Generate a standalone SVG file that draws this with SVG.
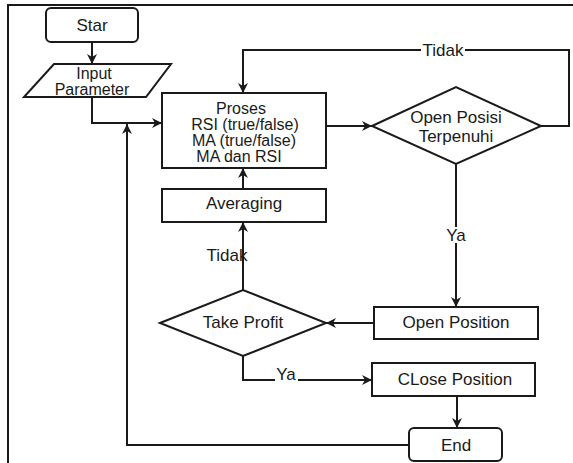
<svg xmlns="http://www.w3.org/2000/svg" width="573" height="463" viewBox="0 0 573 463">
<style>
.s{fill:#fff;stroke:#1a1a1a;stroke-width:2}
.c{fill:none;stroke:#1a1a1a;stroke-width:2}
text{font-family:"Liberation Sans",Arial,sans-serif;font-size:17px;fill:#1a1a1a;text-anchor:middle;dominant-baseline:central}
.m{font-size:16px}
.bg{fill:#fff}
</style>
<defs>
<marker id="a" viewBox="0 0 10 10" refX="10" refY="5" markerWidth="10" markerHeight="10" markerUnits="userSpaceOnUse" orient="auto">
<path d="M0,0 L10,5 L0,10 L3,5 Z" fill="#1a1a1a"/>
</marker>
</defs>
<rect width="573" height="463" fill="#fff"/>
<path d="M8,463 V5 H573" fill="none" stroke="#1a1a1a" stroke-width="2"/>
<g id="connectors">
<path class="c" d="M92,42 V64" marker-end="url(#a)"/>
<path class="c" d="M92,97 V123 H162" marker-end="url(#a)"/>
<path class="c" d="M326,126 H372" marker-end="url(#a)"/>
<path class="c" d="M541,126 H569 V50 H243 V93" marker-end="url(#a)"/>
<path class="c" d="M456,164 V307" marker-end="url(#a)"/>
<path class="c" d="M374,323 H326" marker-end="url(#a)"/>
<path class="c" d="M243,290 V222" marker-end="url(#a)"/>
<path class="c" d="M243,189 V168" marker-end="url(#a)"/>
<path class="c" d="M243,356 V380 H372" marker-end="url(#a)"/>
<path class="c" d="M457,396 V428" marker-end="url(#a)"/>
<path class="c" d="M409,445 H127 V124" marker-end="url(#a)"/>
<rect class="bg" x="421" y="42" width="44" height="16"/>
<text x="443" y="50">Tidak</text>
<rect class="bg" x="208" y="247" width="34" height="16"/>
<text x="227" y="255">Tidak</text>
<rect class="bg" x="444" y="227" width="24" height="16"/>
<text x="456" y="235">Ya</text>
<rect class="bg" x="275" y="372" width="23" height="10"/>
<text x="286" y="374">Ya</text>
</g>
<g id="star">
<rect class="s" x="46" y="8" width="92" height="34" rx="5"/>
<text x="92" y="25">Star</text>
</g>
<g id="input">
<polygon class="s" points="54,64 171,64 146,97 24,97"/>
<text class="m" x="94" y="73">Input</text>
<text class="m" x="92" y="89">Parameter</text>
</g>
<g id="proses">
<rect class="s" x="162" y="93" width="164" height="75"/>
<text class="m" x="241" y="108">Proses</text>
<text class="m" x="245" y="124">RSI (true/false)</text>
<text class="m" x="244" y="140">MA (true/false)</text>
<text class="m" x="239" y="156">MA dan RSI</text>
</g>
<g id="openposisi">
<polygon class="s" points="372,126 456,87 541,126 456,164"/>
<text x="456" y="117">Open Posisi</text>
<text x="456" y="136">Terpenuhi</text>
</g>
<g id="averaging">
<rect class="s" x="162" y="189" width="164" height="33"/>
<text x="244" y="203">Averaging</text>
</g>
<g id="openposition">
<rect class="s" x="374" y="307" width="164" height="32"/>
<text x="456" y="322">Open Position</text>
</g>
<g id="takeprofit">
<polygon class="s" points="160,323 243,290 326,323 243,356"/>
<text x="243" y="322">Take Profit</text>
</g>
<g id="closeposition">
<rect class="s" x="372" y="363" width="163" height="33"/>
<text x="455" y="379">CLose Position</text>
</g>
<g id="end">
<rect class="s" x="409" y="428" width="93" height="33" rx="5"/>
<text x="456" y="445">End</text>
</g>
</svg>
